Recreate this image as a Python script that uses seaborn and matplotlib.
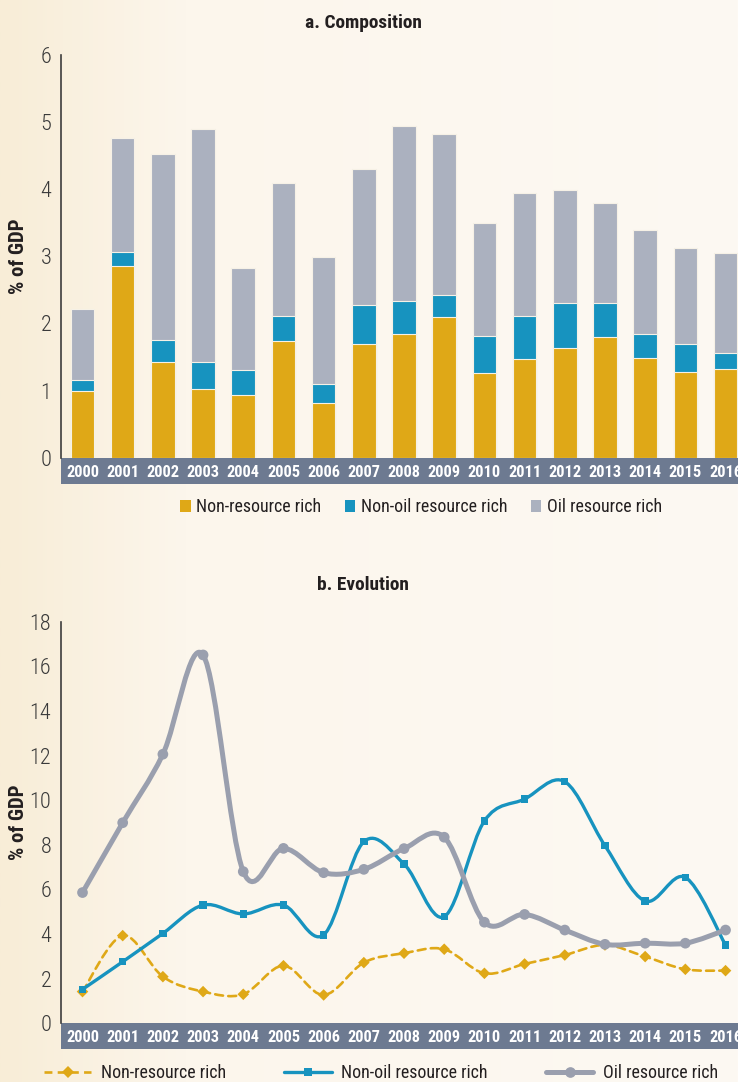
import os
import numpy as np
import pandas as pd
import matplotlib
matplotlib.use("Agg")
import matplotlib.pyplot as plt
import seaborn as sns
from matplotlib import font_manager as fm
from matplotlib.path import Path
from matplotlib.patches import PathPatch, Patch, Rectangle
from matplotlib.lines import Line2D
from matplotlib.colors import LinearSegmentedColormap

years = [str(y) for y in range(2000, 2017)]
series_names = ["Non-resource rich", "Non-oil resource rich", "Oil resource rich"]

# a. Composition (% of GDP), stacked
comp_non_resource = [0.99, 2.85, 1.43, 1.03, 0.93, 1.74, 0.82, 1.70, 1.84, 2.09,
                     1.26, 1.47, 1.63, 1.80, 1.49, 1.28, 1.32]
comp_non_oil = [0.17, 0.22, 0.33, 0.40, 0.37, 0.37, 0.28, 0.58, 0.50, 0.33,
                0.56, 0.64, 0.68, 0.51, 0.36, 0.42, 0.24]
comp_oil = [1.06, 1.69, 2.77, 3.47, 1.52, 1.98, 1.89, 2.02, 2.60, 2.41,
            1.67, 1.84, 1.68, 1.49, 1.54, 1.43, 1.49]

# b. Evolution (% of GDP)
evo_non_resource = [1.42, 3.93, 2.09, 1.42, 1.30, 2.58, 1.27, 2.72, 3.14, 3.32,
                    2.24, 2.66, 3.06, 3.51, 2.99, 2.42, 2.36]
evo_non_oil = [1.52, 2.76, 4.03, 5.30, 4.90, 5.30, 3.96, 8.14, 7.14, 4.78,
               9.07, 10.05, 10.83, 7.96, 5.48, 6.54, 3.51]
evo_oil = [5.86, 8.99, 12.06, 16.51, 6.80, 7.84, 6.75, 6.90, 7.83, 8.34,
           4.53, 4.88, 4.18, 3.54, 3.59, 3.59, 4.18]

yellow = "#dfa817"
blue = "#1793bf"
grey_bar = "#abb1bf"
grey_line = "#9a9fae"
band = "#6d7a91"
ink = "#3a3a3a"
dark = "#231f20"

sns.set_style("white")


# look for a condensed face, the original uses a narrow font
def pick_font():
    cands = [("Liberation Sans Narrow", "normal"), ("Roboto Condensed", "normal"),
             ("Open Sans Condensed", "normal"), ("DejaVu Sans", "condensed"),
             ("Noto Sans", "condensed"), ("Roboto", "condensed"), ("Open Sans", "condensed")]
    for fam, stretch in cands:
        try:
            path = fm.findfont(fm.FontProperties(family=fam, stretch=stretch),
                               fallback_to_default=False)
        except ValueError:
            continue
        name = os.path.basename(path).lower()
        if "narrow" in name or "condensed" in name:
            return fam, stretch
    return "Liberation Sans", "normal"


fam, stretch = pick_font()
plt.rcParams["font.family"] = [fam, "DejaVu Sans"]
plt.rcParams["font.stretch"] = stretch

W, H = 738, 1082
fig = plt.figure(figsize=(W / 100, H / 100), dpi=100)
fig.patch.set_facecolor("#fdf9f3")

# scale all text so that widths match the reference
r = fig.canvas.get_renderer()
probe = fig.text(0, 0, "Non-resource rich", fontsize=13.8)
k = min(1.0, 125 / probe.get_window_extent(r).width)
probe.remove()

# warm gradient background
bg = fig.add_axes([0, 0, 1, 1], zorder=-10)
cmap = LinearSegmentedColormap.from_list(
    "bg", [(0, "#f8edd7"), (0.25, "#fcf6ec"), (1, "#fdf9f3")])
bg.imshow(np.linspace(0, 1, 256)[None, :], aspect="auto", cmap=cmap, extent=[0, 1, 0, 1])
bg.axis("off")


def style_axis(ax, top_px, bottom_px):
    ax.set_facecolor("none")
    for s in ["top", "right", "bottom"]:
        ax.spines[s].set_visible(False)
    ax.spines["left"].set_color("#3d3d3d")
    ax.spines["left"].set_linewidth(1.2)
    ax.tick_params(axis="y", length=5, width=1, color="#3d3d3d",
                   labelsize=16, labelcolor=ink, pad=2)
    for t in ax.get_yticklabels():
        t.set_fontweight("light")
    ax.tick_params(axis="x", length=0, pad=5, labelsize=12.6 * k, labelcolor="white")
    ax.set_xticks(range(len(years)))
    ax.set_xticklabels(years, fontweight="bold")
    ax.set_xlim(-0.535, 16.31)
    ax.set_xlabel("")
    ax.set_ylabel("")
    h = 26 / (bottom_px - top_px)
    ax.add_patch(Rectangle((0, -h), 1.02, h, transform=ax.transAxes,
                           clip_on=False, color=band, zorder=0.1, lw=0))
    fig.text(18 / W, 1 - (top_px + bottom_px) / 2 / H, "% of GDP", rotation=90,
             ha="center", va="center", fontsize=16 * k, fontweight="bold", color=dark)


def smooth_path(xs, ys):
    pts = np.column_stack([xs, ys]).astype(float)
    n = len(pts)
    verts = [pts[0]]
    codes = [Path.MOVETO]
    for i in range(n - 1):
        p0 = pts[max(i - 1, 0)]
        p1, p2 = pts[i], pts[i + 1]
        p3 = pts[min(i + 2, n - 1)]
        verts += [p1 + (p2 - p0) / 6, p2 - (p3 - p1) / 6, p2]
        codes += [Path.CURVE4] * 3
    return Path(verts, codes)


# ---- panel a ----
a_top, a_bot = 55, 457.7
ax1 = fig.add_axes([61 / W, 1 - a_bot / H, (W - 61) / W, (a_bot - a_top) / H])
nr = np.array(comp_non_resource)
no = np.array(comp_non_oil)
oi = np.array(comp_oil)
bar_kw = dict(width=0.587, errorbar=None, saturation=1, edgecolor="#f6f1e6", linewidth=0.8, ax=ax1)
sns.barplot(x=years, y=nr + no + oi, color=grey_bar, **bar_kw)
sns.barplot(x=years, y=nr + no, color=blue, **bar_kw)
sns.barplot(x=years, y=nr, color=yellow, **bar_kw)
ax1.set_ylim(0, 6)
ax1.set_yticks(range(0, 7))
style_axis(ax1, a_top, a_bot)
fig.text(363 / W, 1 - 23 / H, "a. Composition", ha="center", va="center",
         fontsize=15 * k, fontweight="bold", color=dark)

handles_a = [Patch(facecolor=c, edgecolor="none") for c in (yellow, blue, grey_bar)]
fig.legend(handles_a, series_names, loc="center", bbox_to_anchor=(421 / W, 1 - 507 / H),
           ncol=3, frameon=False, fontsize=13.8 * k, handlelength=0.6, handleheight=0.65,
           handletextpad=0.3, columnspacing=1.3, borderpad=0, labelcolor=dark)

# ---- panel b ----
b_top, b_bot = 621.7, 1023.3
ax2 = fig.add_axes([61 / W, 1 - b_bot / H, (W - 61) / W, (b_bot - b_top) / H])
idx = np.arange(len(years))
specs = [
    (evo_non_resource, yellow, 1.9, (0, (3, 2)), "D", 5.9, 3),
    (evo_non_oil, blue, 2.4, "-", "s", 5.3, 4),
    (evo_oil, grey_line, 3.6, "-", "o", 7.7, 5),
]
for vals, col, lw, ls, mk, ms, z in specs:
    ax2.add_patch(PathPatch(smooth_path(idx, vals), fill=False, edgecolor=col, lw=lw,
                            linestyle=ls, capstyle="round", joinstyle="round", zorder=z))
    sns.scatterplot(x=idx, y=vals, marker=mk, s=ms ** 2, color=col, edgecolor="none",
                    linewidth=0, zorder=z + 0.5, ax=ax2, legend=False)
ax2.set_ylim(0, 18)
ax2.set_yticks(range(0, 19, 2))
style_axis(ax2, b_top, b_bot)
fig.text(363 / W, 1 - 585 / H, "b. Evolution", ha="center", va="center",
         fontsize=15 * k, fontweight="bold", color=dark)

handles_b = [Line2D([], [], color=col, lw=lw, linestyle=ls, marker=mk, markersize=ms,
                    markeredgewidth=0)
             for _, col, lw, ls, mk, ms, _z in specs]
fig.legend(handles_b, series_names, loc="center", bbox_to_anchor=(381 / W, 1 - 1073 / H),
           ncol=3, frameon=False, fontsize=13.8 * k, handlelength=2.6 / k * 0.95,
           handletextpad=0.5 / k, columnspacing=3.2 / k * 0.95, borderpad=0, labelcolor=dark)

fig.savefig("out.png", dpi=100, facecolor=fig.get_facecolor())
